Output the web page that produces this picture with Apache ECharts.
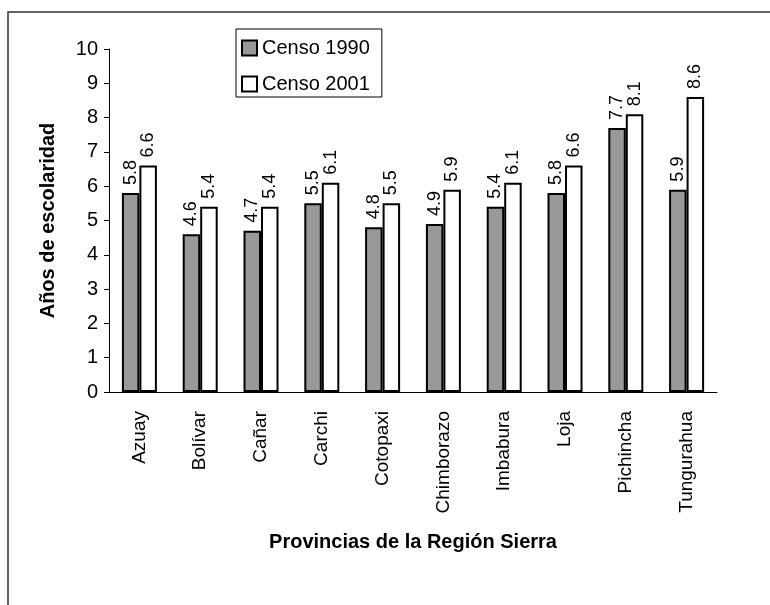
<!DOCTYPE html>
<html>
<head>
<meta charset="utf-8">
<script src="https://cdn.jsdelivr.net/npm/echarts@6/dist/echarts.min.js"></script>
<style>
    html, body { margin: 0; padding: 0; background: #fff; }
    #chart { width: 770px; height: 605px; }
</style>
</head>
<body>
<div id="chart"></div>
<script>
// datos
var provincias = ['Azuay', 'Bolívar', 'Cañar', 'Carchi', 'Cotopaxi', 'Chimborazo', 'Imbabura', 'Loja', 'Pichincha', 'Tungurahua'];
var censo1990 = [5.8, 4.6, 4.7, 5.5, 4.8, 4.9, 5.4, 5.8, 7.7, 5.9];
var censo2001 = [6.6, 5.4, 5.4, 6.1, 5.5, 5.9, 6.1, 6.6, 8.1, 8.6];
var yTicks = [0, 10, 1]; // min, max, intervalo

var fuente = "'Liberation Sans', Arial, sans-serif";

var valueLabel = {
    show: true,
    position: 'top',
    distance: 8,
    rotate: 90,
    align: 'left',
    verticalAlign: 'middle',
    fontFamily: fuente,
    fontSize: 18,
    color: '#000'
};

var myChart = echarts.init(document.getElementById('chart'));
myChart.setOption({
    animation: false,
    textStyle: { fontFamily: fuente },
    graphic: [{
        type: 'rect',
        shape: { x: 8, y: 12, width: 900, height: 900 },
        style: { fill: 'none', stroke: '#333', lineWidth: 1.5 }
    }],
    legend: {
        orient: 'vertical',
        left: 236,
        top: 29,
        padding: [9, 12, 3, 5],
        itemGap: 16,
        itemWidth: 15,
        itemHeight: 15,
        borderColor: '#000',
        borderWidth: 1,
        icon: 'rect',
        textStyle: { fontSize: 20, color: '#000', fontFamily: fuente },
        data: ['Censo 1990', 'Censo 2001']
    },
    grid: { left: 109, right: 53, top: 49, bottom: 213 },
    xAxis: {
        type: 'category',
        data: provincias,
        name: 'Provincias de la Región Sierra',
        nameLocation: 'middle',
        nameGap: 140,
        nameTextStyle: { fontSize: 20, fontWeight: 'bold', color: '#000', fontFamily: fuente },
        axisLine: { lineStyle: { color: '#000', width: 1 } },
        axisTick: { length: 6, lineStyle: { color: '#000' } },
        axisLabel: { rotate: 90, margin: 19, fontSize: 19, color: '#000', fontFamily: fuente, interval: 0 }
    },
    yAxis: {
        type: 'value',
        min: yTicks[0],
        max: yTicks[1],
        interval: yTicks[2],
        name: 'Años de escolaridad',
        nameLocation: 'middle',
        nameGap: 51,
        nameTextStyle: { fontSize: 20, fontWeight: 'bold', color: '#000', fontFamily: fuente },
        axisLine: { show: true, lineStyle: { color: '#000', width: 1 } },
        axisTick: { show: true, length: 5, lineStyle: { color: '#000' } },
        axisLabel: { margin: 11, fontSize: 20, color: '#000', fontFamily: fuente },
        splitLine: { show: false }
    },
    series: [{
        name: 'Censo 1990',
        type: 'bar',
        data: censo1990,
        barWidth: 17.5,
        barGap: '0%',
        itemStyle: { color: '#999999', borderColor: '#000', borderWidth: 2 },
        label: valueLabel
    }, {
        name: 'Censo 2001',
        type: 'bar',
        data: censo2001,
        barWidth: 17.5,
        barGap: '0%',
        itemStyle: { color: '#ffffff', borderColor: '#000', borderWidth: 2 },
        label: valueLabel
    }]
});
</script>
</body>
</html>
